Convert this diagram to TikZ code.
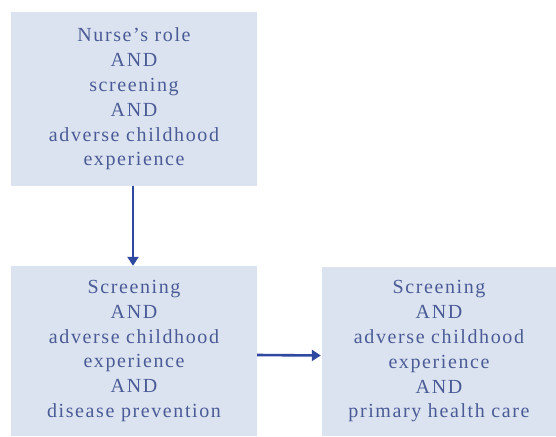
\documentclass[tikz,border=0pt]{standalone}
\usepackage{fontspec}
\setmainfont{Liberation Serif}[LetterSpace=8]
\usetikzlibrary{arrows.meta}
\definecolor{boxfill}{HTML}{DCE3F0}
\definecolor{boxtext}{HTML}{4A5B96}
\definecolor{arrowcol}{HTML}{2F48A0}
\begin{document}
\begin{tikzpicture}[x=1pt,y=1pt,
  box/.style={rectangle, fill=boxfill, inner sep=0pt, align=center,
    text=boxtext, font=\fontsize{20}{24.8}\selectfont},
  conn/.style={draw=arrowcol, line width=2.6pt,
    -{Triangle[width=11pt,length=9pt]}}]
\useasboundingbox (0,0) rectangle (556,-436);
\node[box, minimum width=246pt, minimum height=174pt] (top) at (134,-99)
  {Nurse’s role\\AND\\screening\\AND\\adverse childhood\\experience};
\node[box, minimum width=246pt, minimum height=170pt] (bl) at (134,-351)
  {Screening\\AND\\adverse childhood\\experience\\AND\\disease prevention};
\node[box, minimum width=234pt, minimum height=169pt] (rb) at (439,-351.5)
  {Screening\\AND\\adverse childhood\\experience\\AND\\primary health care};
\draw[conn] ([xshift=-1pt]top.south) -- ([xshift=-1pt]bl.north);
\draw[conn] ([yshift=-4pt]bl.east) -- ([yshift=-4pt,xshift=-1pt]rb.west);
\end{tikzpicture}
\end{document}
